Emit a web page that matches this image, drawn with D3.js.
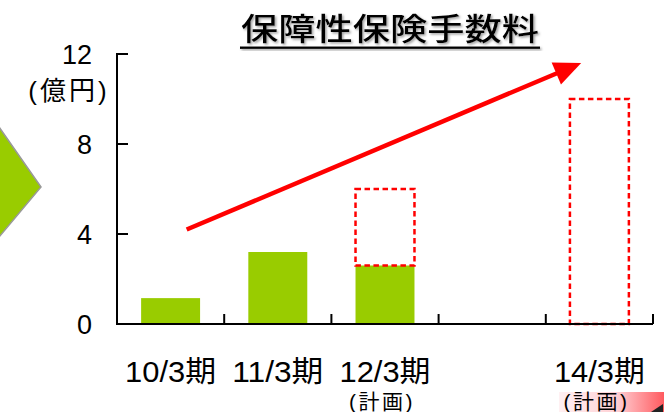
<!DOCTYPE html>
<html>
<head>
<meta charset="utf-8">
<script src="https://cdn.jsdelivr.net/npm/d3@7"></script>
<style>
  html, body { margin: 0; padding: 0; background: #fff; }
  svg { display: block; }
</style>
</head>
<body>
<svg id="chart" width="664" height="412"></svg>
<script>
// ---- data ----
const categories = ["10/3期", "11/3期", "12/3期", "13/3期", "14/3期"];
const xLabels    = ["10/3期", "11/3期", "12/3期", "", "14/3期"];
const subLabels  = ["", "", "(計画)", "", "(計画)"];
const actualValues = [1.15, 3.2, 2.6, null, null];
const planValues   = [null, null, 6, null, 10];
const yTicks = [0, 4, 8, 12];
const yUnit = "(億円)";
const title = "保障性保険手数料";
const arrowStart = { pos: 0.65, value: 4.2 };
const arrowEnd   = { pos: 4.33, value: 11.6 };

(function () {
// ---- layout ----
const svg = d3.select("#chart");
const W = 664, H = 412;
const pL = 117, pR = 653, pT = 54, pB = 324;
const green = "#99CC00";
const red = "#FF0000";
const latin = "'Liberation Sans', 'Noto Sans CJK JP', sans-serif";
const cjk = "'Noto Sans CJK JP', sans-serif";

const x = d3.scaleBand().domain(categories).range([pL, pR]).padding(0);
const pos = d3.scaleLinear().domain([0, categories.length]).range([pL, pR]);
const y = d3.scaleLinear().domain([0, 12]).range([pB, pT]);
const barW = x.bandwidth() * 0.55;

const defs = svg.append("defs");
const f = defs.append("filter").attr("id", "shadow").attr("x", "-5%").attr("y", "-30%").attr("width", "110%").attr("height", "180%");
f.append("feDropShadow").attr("dx", 1.5).attr("dy", 1.5).attr("stdDeviation", 0.8).attr("flood-color", "#777").attr("flood-opacity", 0.7);
const grad = defs.append("linearGradient").attr("id", "pinkGrad").attr("x1", "0").attr("x2", "1").attr("y1", "0").attr("y2", "0");
grad.append("stop").attr("offset", "0").attr("stop-color", "#FFF0F2");
grad.append("stop").attr("offset", "0.55").attr("stop-color", "#FFD0D4");
grad.append("stop").attr("offset", "1").attr("stop-color", "#FF5A5F");

// left decorative green arrow shape
svg.append("polygon")
  .attr("points", "-1,127 41,187 -1,237")
  .attr("fill", green).attr("stroke", "#999").attr("stroke-width", 1.5);

// pink box bottom right
svg.append("rect").attr("x", 559).attr("y", 392).attr("width", W - 559).attr("height", H - 392)
  .attr("fill", "url(#pinkGrad)");
svg.append("polygon").attr("points", "651,412 663,404 663,412").attr("fill", "#222");

// title
svg.append("text")
  .attr("x", 390).attr("y", 40)
  .attr("text-anchor", "middle")
  .attr("font-family", cjk).attr("font-size", 31).attr("font-weight", 500)
  .attr("textLength", 298).attr("lengthAdjust", "spacingAndGlyphs")
  .attr("filter", "url(#shadow)")
  .attr("fill", "#000")
  .text(title);
svg.append("rect").attr("x", 240).attr("width", 300).attr("y", 46.5).attr("height", 2.4)
  .attr("fill", "#000").attr("filter", "url(#shadow)");

// bars
svg.selectAll("rect.actual")
  .data(categories.map((c, i) => ({ c, v: actualValues[i] })).filter(d => d.v != null))
  .join("rect").attr("class", "actual")
  .attr("x", d => x(d.c) + (x.bandwidth() - barW) / 2)
  .attr("width", barW)
  .attr("y", d => y(d.v))
  .attr("height", d => y(0) - y(d.v))
  .attr("fill", green);

// planned dashed boxes
svg.selectAll("rect.plan")
  .data(categories.map((c, i) => ({ c, v: planValues[i], base: actualValues[i] || 0 })).filter(d => d.v != null))
  .join("rect").attr("class", "plan")
  .attr("x", d => x(d.c) + (x.bandwidth() - barW) / 2)
  .attr("width", barW)
  .attr("y", d => y(d.v))
  .attr("height", d => y(d.base) - y(d.v))
  .attr("fill", "none")
  .attr("stroke", red).attr("stroke-width", 2.5)
  .attr("stroke-dasharray", "5.5,3.5");

// axes
const axisG = svg.append("g");
axisG.append("line").attr("x1", pL).attr("x2", pL).attr("y1", y(12) - 1).attr("y2", pB + 1)
  .attr("stroke", "#000").attr("stroke-width", 2);
axisG.append("line").attr("x1", pL - 1).attr("x2", pR).attr("y1", pB).attr("y2", pB)
  .attr("stroke", "#000").attr("stroke-width", 2.2);
axisG.selectAll("line.yt").data(yTicks).join("line").attr("class", "yt")
  .attr("x1", pL).attr("x2", pL + 11)
  .attr("y1", d => y(d)).attr("y2", d => y(d))
  .attr("stroke", "#000").attr("stroke-width", 2);
axisG.selectAll("line.xt").data(categories).join("line").attr("class", "xt")
  .attr("x1", d => x(d) + x.bandwidth()).attr("x2", d => x(d) + x.bandwidth())
  .attr("y1", pB).attr("y2", pB - 10)
  .attr("stroke", "#000").attr("stroke-width", 2);

// y tick labels
svg.selectAll("text.ylab").data(yTicks).join("text").attr("class", "ylab")
  .attr("x", 92).attr("y", d => y(d) + 10)
  .attr("text-anchor", "end")
  .attr("font-family", latin).attr("font-size", 27)
  .text(d => d);
svg.append("text").attr("x", 69).attr("y", 100)
  .attr("text-anchor", "middle")
  .attr("font-family", latin).attr("font-size", 26)
  .attr("letter-spacing", 3)
  .text(yUnit);

// x labels
svg.selectAll("text.xlab").data(categories.map((c, i) => ({ c, t: xLabels[i] })).filter(d => d.t))
  .join("text").attr("class", "xlab")
  .attr("x", d => x(d.c) + x.bandwidth() / 2)
  .attr("y", 382)
  .attr("text-anchor", "middle")
  .attr("font-family", latin).attr("font-size", 29)
  .attr("textLength", 91).attr("lengthAdjust", "spacingAndGlyphs")
  .text(d => d.t);
svg.selectAll("text.sublab").data(categories.map((c, i) => ({ c, t: subLabels[i] })).filter(d => d.t))
  .join("text").attr("class", "sublab")
  .attr("x", d => x(d.c) + x.bandwidth() / 2 - 3)
  .attr("y", 409)
  .attr("text-anchor", "middle")
  .attr("font-family", latin).attr("font-size", 21)
  .attr("letter-spacing", 2.5)
  .text(d => d.t);

// trend arrow
const x0 = pos(arrowStart.pos), y0 = y(arrowStart.value);
const x1 = pos(arrowEnd.pos), y1 = y(arrowEnd.value);
const dx = x1 - x0, dy = y1 - y0, len = Math.hypot(dx, dy);
const ux = dx / len, uy = dy / len;
const headL = 27, headW = 12;
const bx = x1 - headL * ux, by = y1 - headL * uy;
svg.append("line").attr("x1", x0).attr("y1", y0).attr("x2", bx + ux * 2).attr("y2", by + uy * 2)
  .attr("stroke", red).attr("stroke-width", 4.5);
svg.append("polygon")
  .attr("points", [[x1, y1], [bx - uy * headW, by + ux * headW], [bx + uy * headW, by - ux * headW]].map(p => p.join(",")).join(" "))
  .attr("fill", red);
})();
</script>
</body>
</html>
